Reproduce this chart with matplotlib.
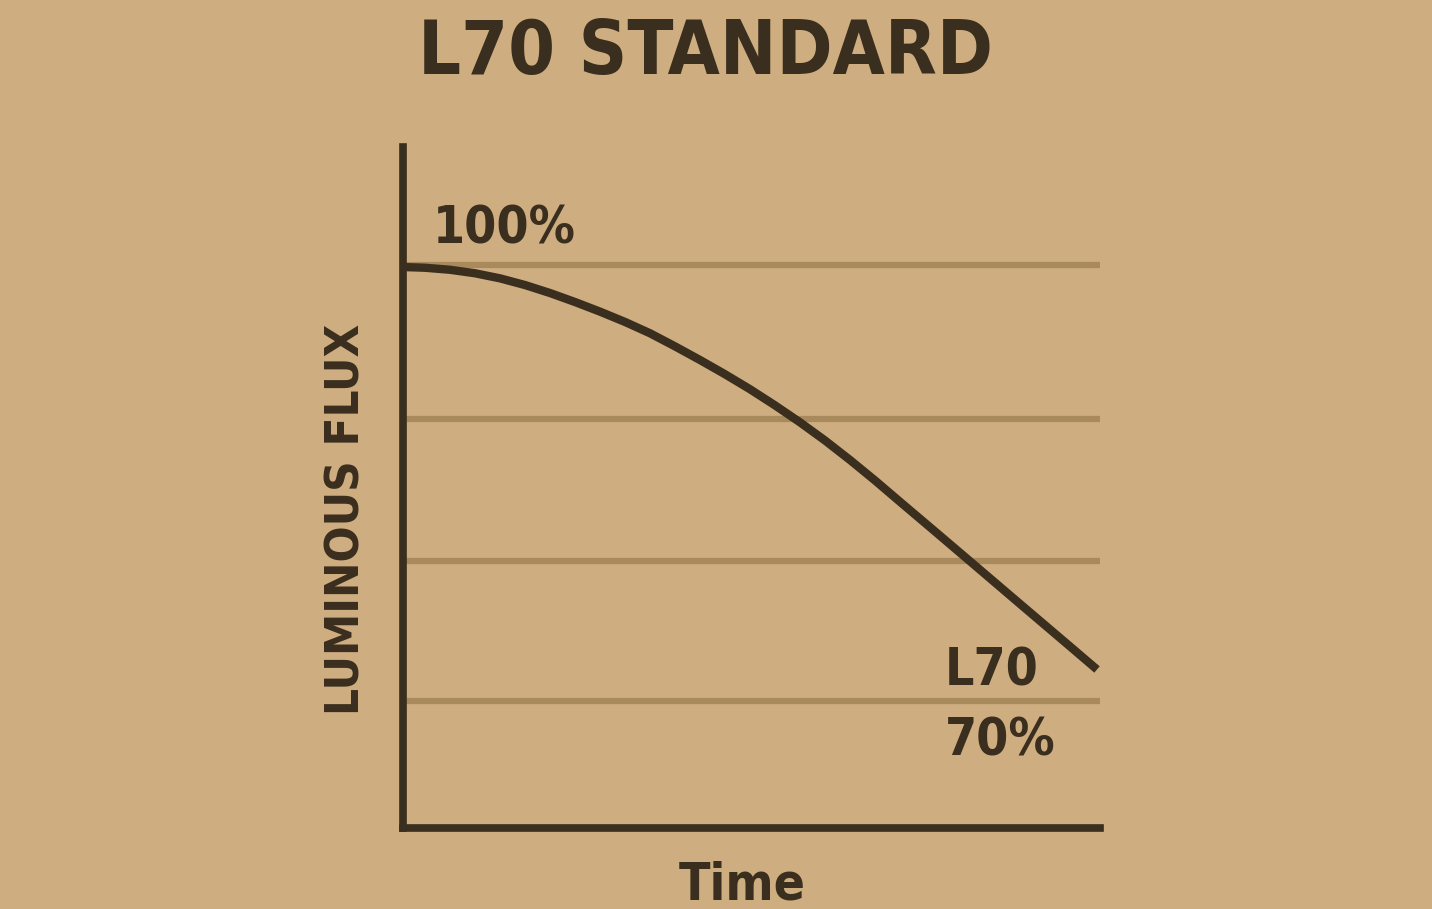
import matplotlib
matplotlib.use("Agg")
import matplotlib.pyplot as plt

# Luminous flux decay curve (time in arbitrary units 0..10)
time = [0.0, 0.316, 0.674, 1.033, 1.392, 1.750, 2.109, 2.468, 2.826, 3.185,
        3.544, 3.902, 4.261, 4.620, 4.978, 5.337, 5.696, 6.055, 6.413, 6.772,
        7.131, 7.633, 8.135, 8.895, 9.613, 9.957]
flux = [99.86, 99.81, 99.67, 99.43, 99.08, 98.62, 98.07, 97.45, 96.79, 96.08,
        95.30, 94.40, 93.46, 92.48, 91.45, 90.34, 89.17, 87.92, 86.58, 85.17,
        83.70, 81.66, 79.61, 76.50, 73.57, 72.16]

# horizontal guide lines
grid_levels = [100.0, 89.4, 79.63, 70.0]

bg = "#CEAD80"
ink = "#3A2E1E"
grid_col = "#A88A5C"

W, H = 1432, 909


def fx(px):
    return px / W


def fy(py):
    return 1 - py / H


fig = plt.figure(figsize=(W / 100, H / 100), dpi=100, facecolor=bg)
ax = fig.add_axes([fx(403), fy(828), fx(1100) - fx(403), fy(147) - fy(828)])
ax.set_facecolor(bg)

ax.set_xlim(0, 10)
ax.set_ylim(61.25, 108.12)

for g in grid_levels:
    ax.plot([0, 10], [g, g], color=grid_col, lw=4.5, solid_capstyle="butt", zorder=1)

ax.plot(time, flux, color=ink, lw=6, solid_capstyle="butt", solid_joinstyle="round", zorder=3)

for side in ["top", "right"]:
    ax.spines[side].set_visible(False)
for side in ["left", "bottom"]:
    ax.spines[side].set_color(ink)
    ax.spines[side].set_linewidth(5.5)
    ax.spines[side].set_capstyle("projecting")
ax.set_xticks([])
ax.set_yticks([])

font = dict(family="DejaVu Sans", fontweight="bold", fontstretch="condensed", color=ink)

# labels inside the plot
fig.text(fx(433), fy(244), "100%", fontsize=37, ha="left", va="baseline", **font)
fig.text(fx(945), fy(685), "L70", fontsize=37, ha="left", va="baseline", **font)
fig.text(fx(945), fy(755), "70%", fontsize=37, ha="left", va="baseline", **font)

# title and axis names
fig.text(fx(705), fy(74), "L70 STANDARD", fontsize=54, ha="center", va="baseline", **font)
fig.text(fx(742), fy(900), "Time", fontsize=37, ha="center", va="baseline", **font)
fig.text(fx(360), fy(519), "LUMINOUS FLUX", fontsize=34, ha="center", va="baseline",
         rotation=90, rotation_mode="anchor", **font)

fig.savefig("out.png", dpi=100, facecolor=bg)
